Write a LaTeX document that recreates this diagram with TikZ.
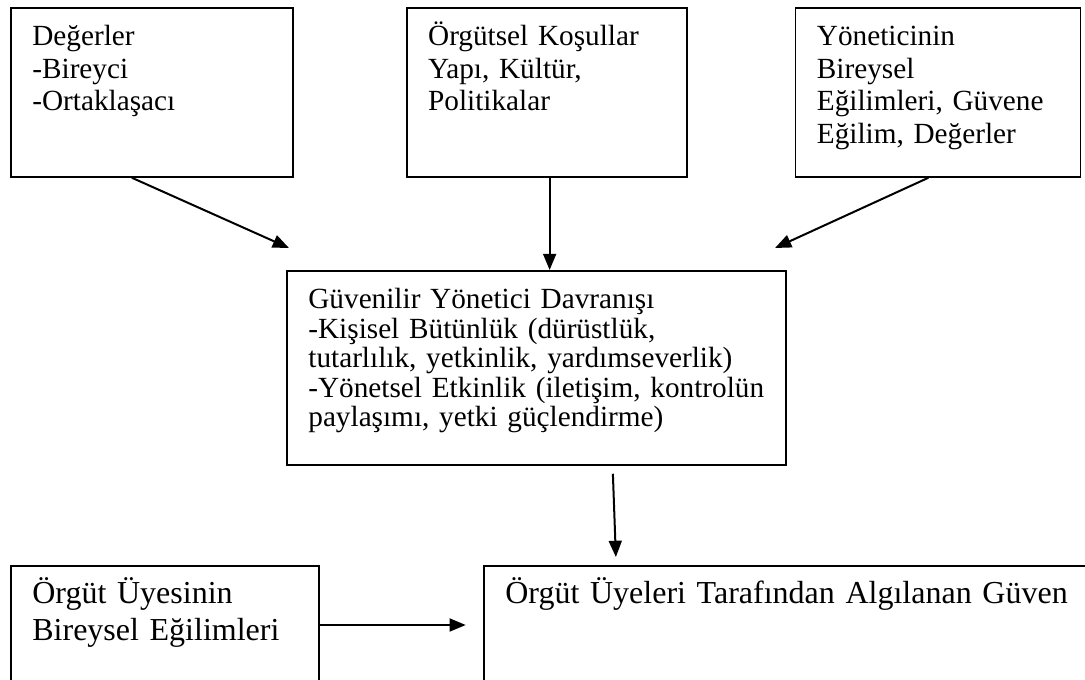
\documentclass[tikz,border=0pt]{standalone}
\usepackage{fontspec}
\setmainfont{Liberation Serif}
\usepackage{tikz}
\usetikzlibrary{arrows.meta,positioning,calc}
\definecolor{trustLine}{RGB}{0,0,0}
\newcommand{\factorfont}{\fontsize{11.7pt}{13pt}\selectfont}
\newcommand{\behaviorfont}{\fontsize{11.7pt}{11.8pt}\selectfont}
\newcommand{\outcomefont}{\fontsize{12.8pt}{14.7pt}\selectfont}
\tikzset{
  factorbox/.style={rectangle, draw=trustLine, line width=0.7pt, anchor=north west, align=left,
    inner xsep=8.6pt, inner ysep=4pt, text height=11.2pt, font=\factorfont},
  topbox/.style={factorbox, text depth=48.4pt},
  bottombox/.style={factorbox, text depth=34.8pt, font=\outcomefont},
  linkarrow/.style={-{Triangle[length=6.5pt,width=5.2pt]}, draw=trustLine, line width=0.8pt},
}

\begin{document}
\begin{tikzpicture}[x=0.4pt, y=-0.4pt]
  \useasboundingbox (0,0) rectangle (1085,679);
  \node[topbox, text width=95.6pt] (values) at (10,7) {Değerler\\-Bireyci\\-Ortaklaşacı};
  \node[topbox, text width=94.8pt, right=44.8pt of values.north east, anchor=north west] (orgcond) {Örgütsel Koşullar\\Yapı, Kültür,\\Politikalar};
  \node[topbox, text width=96.8pt, right=42.8pt of orgcond.north east, anchor=north west] (manager) {Yöneticinin\\Bireysel\\Eğilimleri, Güvene\\Eğilim, Değerler};

  \node[factorbox, font=\behaviorfont, text width=182.4pt, text depth=58.4pt] (behavior) at (286,270) {Güvenilir Yönetici Davranışı\\-Kişisel Bütünlük (dürüstlük,\\tutarlılık, yetkinlik, yardımseverlik)\\-Yönetsel Etkinlik (iletişim, kontrolün\\paylaşımı, yetki güçlendirme)};

  \node[bottombox, text width=106pt] (member) at (10,565) {Örgüt Üyesinin\\Bireysel Eğilimleri};
  \node[bottombox, text width=229.6pt] (trust) at (483,565) {Örgüt Üyeleri Tarafından Algılanan Güven};

  \coordinate (valuesTip) at (289,248);
  \coordinate (managerTip) at (775,248);
  \draw[linkarrow] ([xshift=-8pt]values.south) -- (valuesTip);
  \draw[linkarrow] ([xshift=1.2pt]orgcond.south) -- ([xshift=1.2pt]orgcond.south |- behavior.north);
  \draw[linkarrow] ([xshift=-3.8pt]manager.south) -- (managerTip);
  \draw[linkarrow] ([xshift=30.6pt,yshift=-3.2pt]behavior.south) -- ([xshift=-70.6pt,yshift=3.2pt]trust.north);
  \draw[linkarrow] ([yshift=-24pt]member.north east) -- ++(146,0);
\end{tikzpicture}
\end{document}
